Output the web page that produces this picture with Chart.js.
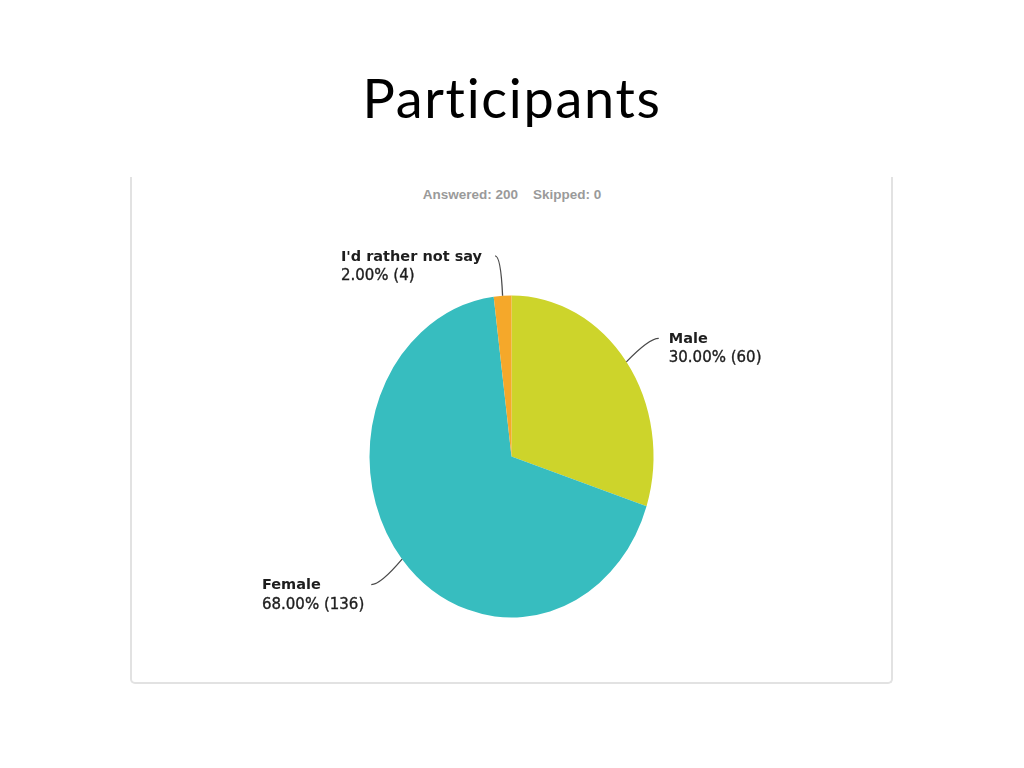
<!DOCTYPE html>
<html><head><meta charset="utf-8">
<script src="https://cdn.jsdelivr.net/npm/chart.js@4"></script>
<style>
html,body{margin:0;padding:0;background:#fff;width:1024px;height:768px;overflow:hidden;}
#title{position:absolute;left:0;width:1024px;top:0;text-align:center;font-family:Lato,sans-serif;font-size:54px;letter-spacing:1.7px;line-height:1;color:#000;}
#panel{position:absolute;left:130px;top:177px;width:759px;height:505px;border:2px solid #e2e2e2;border-top:none;border-radius:0 0 5px 5px;}
#stats{position:absolute;left:0;width:1024px;top:187px;text-align:center;font-family:"Liberation Sans",Arial,sans-serif;font-weight:bold;font-size:13.5px;color:#9a9a9a;white-space:pre;}
#wrap{position:absolute;left:0;top:0;width:1024px;height:768px;}
</style></head>
<body>
<div id="title">Participants</div>
<div id="panel"></div>
<div id="stats"></div>
<div id="wrap"><canvas id="c"></canvas></div>
<script>
const titleText = "Participants";
const answered = 200;
const skipped = 0;
const categories = ["Male", "Female", "I'd rather not say"];
const percents = [30.00, 68.00, 2.00];
const counts = [60, 136, 4];
const colors = ["#cdd42b", "#37bdbf", "#f5a82a"];

document.getElementById('title').textContent = titleText;
document.getElementById('title').style.top = (119 - 54*0.887) + 'px';
document.getElementById('stats').textContent = "Answered: " + answered + "    Skipped: " + skipped;

const yScale = 161/142;

const ellipsePlugin = {
  id: 'ellipse',
  beforeDatasetsDraw(chart) {
    const a = chart.getDatasetMeta(0).data[0];
    const ctx = chart.ctx;
    ctx.save();
    ctx.translate(a.x, a.y);
    ctx.scale(1, yScale);
    ctx.translate(-a.x, -a.y);
  },
  afterDatasetsDraw(chart) {
    chart.ctx.restore();
  }
};

const labelPlugin = {
  id: 'labels',
  afterDraw(chart) {
    const ctx = chart.ctx;
    const meta = chart.getDatasetMeta(0);
    meta.data.forEach((arc, i) => {
      const mid = (arc.startAngle + arc.endAngle) / 2;
      const r = arc.outerRadius;
      const dx = Math.cos(mid), dy = Math.sin(mid);
      const sx = arc.x + r * dx, sy = arc.y + r * yScale * dy;
      const ex = sx + 40 * dx, ey = sy + 40 * dy;
      const side = dx >= 0 ? 1 : -1;
      const steep = Math.abs(dx) < 0.2;
      const endX = ex + (steep ? -5 : 0);
      const cx = sx + 28 * dx, cy = ey;
      ctx.save();
      ctx.strokeStyle = '#4a4a4a';
      ctx.lineWidth = 1.3;
      ctx.beginPath();
      ctx.moveTo(sx, sy);
      ctx.quadraticCurveTo(cx, cy, endX, ey);
      ctx.stroke();
      const l1 = chart.data.labels[i];
      const l2 = percents[i].toFixed(2) + '% (' + counts[i] + ')';
      const f1 = 'bold 14.5px "DejaVu Sans"';
      const f2 = '15px "DejaVu Sans"';
      ctx.font = f1; const w1 = ctx.measureText(l1).width;
      ctx.font = f2; const w2 = ctx.measureText(l2).width;
      const w = Math.max(w1, w2);
      const tx = side > 0 ? endX + 10 : endX - (steep ? 13 : 7) - w;
      ctx.fillStyle = '#1e1e1e';
      ctx.textBaseline = 'middle';
      ctx.textAlign = 'left';
      ctx.font = f1; ctx.fillText(l1, tx, ey + 1);
      ctx.font = f2; ctx.fillText(l2, tx, ey + 20);
      ctx.strokeStyle = '#1e1e1e'; ctx.lineWidth = 0.35;
      ctx.strokeText(l2, tx, ey + 20);
      ctx.restore();
    });
  }
};

new Chart(document.getElementById('c'), {
  type: 'pie',
  data: {
    labels: categories,
    datasets: [{
      data: percents,
      backgroundColor: colors,
      borderWidth: 0
    }]
  },
  options: {
    responsive: true,
    maintainAspectRatio: false,
    animation: false,
    rotation: 0,
    layout: { padding: { left: 369.5, right: 370.5, top: 314.5, bottom: 169.5 } },
    plugins: { legend: { display: false }, tooltip: { enabled: false }, title: { display: false } }
  },
  plugins: [ellipsePlugin, labelPlugin]
});
</script>
</body></html>
